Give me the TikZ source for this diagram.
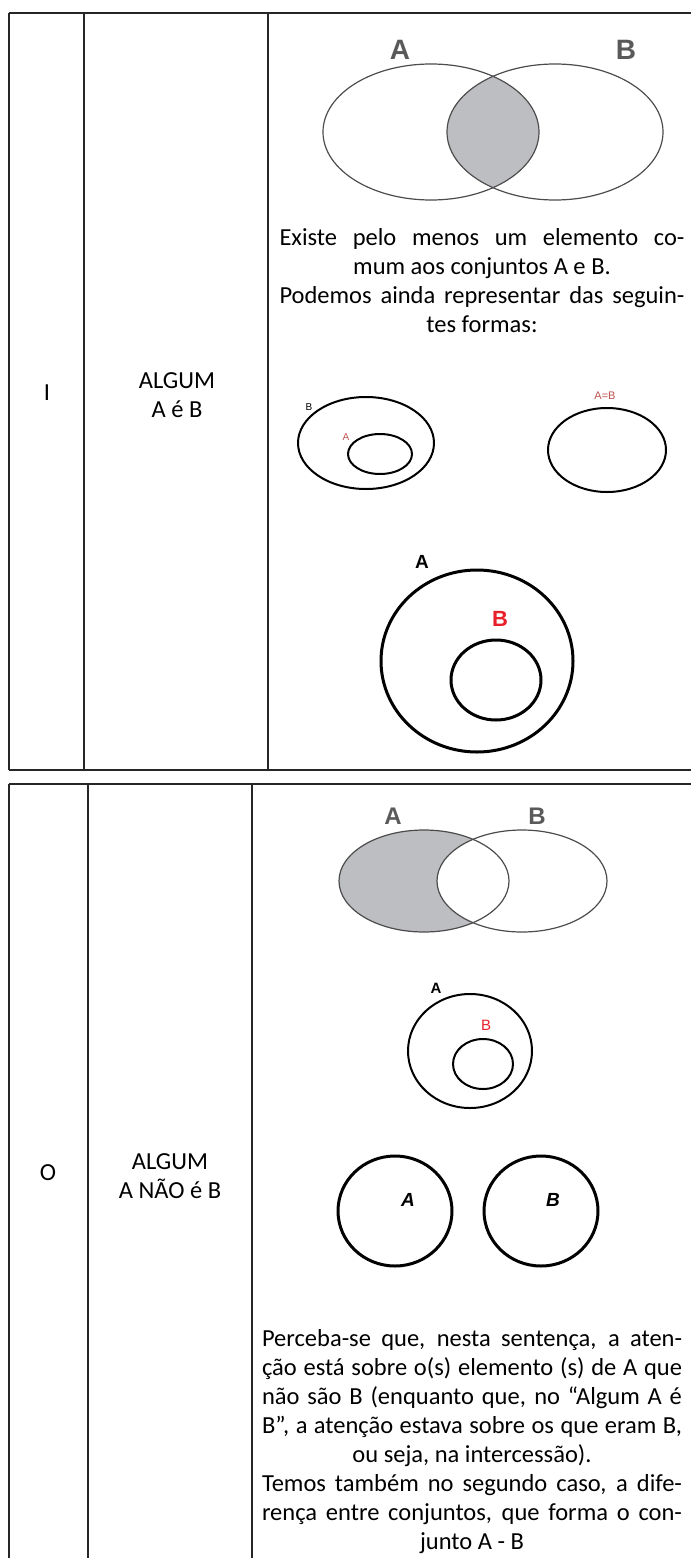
\documentclass[tikz,border=0pt]{standalone}
\usepackage{fontspec}
\setmainfont{Carlito}
\newfontfamily\labelfont{Liberation Sans}
\usepackage{tikz}
\definecolor{rulegray}{HTML}{262626}
\definecolor{venngray}{HTML}{BDBEC1}
\definecolor{labelgray}{HTML}{5A5A5A}
\definecolor{setred}{HTML}{E8202A}
\definecolor{softred}{HTML}{C0504D}
\newcommand{\fullline}[1]{\makebox[\hsize][s]{\spaceskip=\fontdimen2\font plus 1fil minus 0.12em\relax #1}}
\newcommand{\plainspacing}{\spaceskip=\fontdimen2\font\relax\xspaceskip=\fontdimen2\font\relax}
\tikzstyle{rule} = [draw = rulegray, line width = 2pt]
\tikzstyle{venn} = [draw = black!70, line width = 1.2pt]
\tikzstyle{setline} = [draw = black, line width = 2pt]
\tikzstyle{thickset} = [draw = black, line width = 3pt]
\tikzstyle{bodytext} = [inner sep = 0pt, align = center, font = \fontsize{24.5}{29}\selectfont]
\tikzstyle{vennlabel} = [inner sep = 0pt, text = labelgray, font = \labelfont\bfseries\fontsize{28}{28}\selectfont]
\tikzstyle{tinylabel} = [inner sep = 0pt, font = \labelfont\fontsize{10}{10}\selectfont]

\begin{document}
\begin{tikzpicture}[x = 1pt, y = -1pt]
    \useasboundingbox (0, 0) rectangle (691, 1558);

    \draw [rule] (9, 13) -- (691, 13);
    \draw [rule] (9, 770) -- (691, 770);
    \draw [rule] (9, 13) -- (9, 770);
    \draw [rule] (84, 13) -- (84, 770);
    \draw [rule] (268, 13) -- (268, 770);

    \draw [rule] (9, 784) -- (691, 784);
    \draw [rule] (9, 784) -- (9, 1558);
    \draw [rule] (88, 784) -- (88, 1558);
    \draw [rule] (252, 784) -- (252, 1558);

    \node (typeI) at (47, 393) [bodytext] {I};
    \node (nameI) at (177, 395) [bodytext] {ALGUM\\A é B};
    \node (typeO) at (48, 1173) [bodytext] {O};
    \node (nameO) at (170, 1176) [bodytext] {ALGUM\\A NÃO é B};

    \begin{scope}
        \clip (431, 132) ellipse [x radius = 108, y radius = 68];
        \fill [venngray] (555, 132) ellipse [x radius = 108, y radius = 68];
    \end{scope}
    \draw [venn] (431, 132) ellipse [x radius = 108, y radius = 68];
    \draw [venn] (555, 132) ellipse [x radius = 108, y radius = 68];
    \node (vennA) at (400, 50) [vennlabel] {A};
    \node (vennB) at (626, 50) [vennlabel] {B};

    \node (textI) at (482, 281) [bodytext, text width = 405] {\plainspacing
        \fullline{Existe pelo menos um elemento co-}\\
        mum aos conjuntos A e B.\\
        \fullline{Podemos ainda representar das seguin-}\\
        tes formas:};

    \draw [setline] (366, 443) ellipse [x radius = 68, y radius = 46];
    \draw [setline] (380, 454) ellipse [x radius = 32, y radius = 20];
    \node (smallB) at (309, 407) [tinylabel] {B};
    \node (smallA) at (346, 437) [tinylabel, text = softred] {A};
    \draw [setline] (607, 450) ellipse [x radius = 59, y radius = 42];
    \node (equalAB) at (605, 396) [tinylabel, text = softred, font = \labelfont\fontsize{11}{11}\selectfont] {A=B};

    \draw [thickset] (477, 661) ellipse [x radius = 96, y radius = 91];
    \draw [thickset] (496, 680) ellipse [x radius = 45, y radius = 40];
    \node (bigA) at (422, 562) [vennlabel, text = black, font = \labelfont\bfseries\fontsize{19}{19}\selectfont] {A};
    \node (bigB) at (500, 619) [vennlabel, text = setred, font = \labelfont\bfseries\fontsize{22}{22}\selectfont] {B};

    \fill [venngray] (424, 881) ellipse [x radius = 85, y radius = 51];
    \fill [white] (522, 881) ellipse [x radius = 85, y radius = 51];
    \draw [venn] (424, 881) ellipse [x radius = 85, y radius = 51];
    \draw [venn] (522, 881) ellipse [x radius = 85, y radius = 51];
    \node (diffA) at (393, 816) [vennlabel, font = \labelfont\bfseries\fontsize{24}{24}\selectfont] {A};
    \node (diffB) at (537, 816) [vennlabel, font = \labelfont\bfseries\fontsize{24}{24}\selectfont] {B};

    \draw [setline] (470, 1051) ellipse [x radius = 62, y radius = 57];
    \draw [setline] (483, 1064) ellipse [x radius = 30, y radius = 25];
    \node (nestA) at (436, 988) [vennlabel, text = black, font = \labelfont\bfseries\fontsize{15}{15}\selectfont] {A};
    \node (nestB) at (486, 1025) [vennlabel, text = setred, font = \labelfont\fontsize{15}{15}\selectfont] {B};

    \draw [thickset] (395, 1211) ellipse [x radius = 57, y radius = 55];
    \draw [thickset] (541, 1211) ellipse [x radius = 57, y radius = 55];
    \node (aloneA) at (408, 1200) [vennlabel, text = black, font = \labelfont\bfseries\itshape\fontsize{19}{19}\selectfont] {A};
    \node (aloneB) at (553, 1200) [vennlabel, text = black, font = \labelfont\bfseries\itshape\fontsize{19}{19}\selectfont] {B};

    \node (textO) at (472, 1442) [bodytext, text width = 420] {\plainspacing
        \fullline{Perceba-se que, nesta sentença, a aten-}\\
        \fullline{ção está sobre o(s) elemento (s) de A que}\\
        \fullline{não são B (enquanto que, no “Algum A é}\\
        \fullline{B”, a atenção estava sobre os que eram B,}\\
        ou seja, na intercessão).\\
        \fullline{Temos também no segundo caso, a dife-}\\
        \fullline{rença entre conjuntos, que forma o con-}\\
        junto A - B};
\end{tikzpicture}
\end{document}
